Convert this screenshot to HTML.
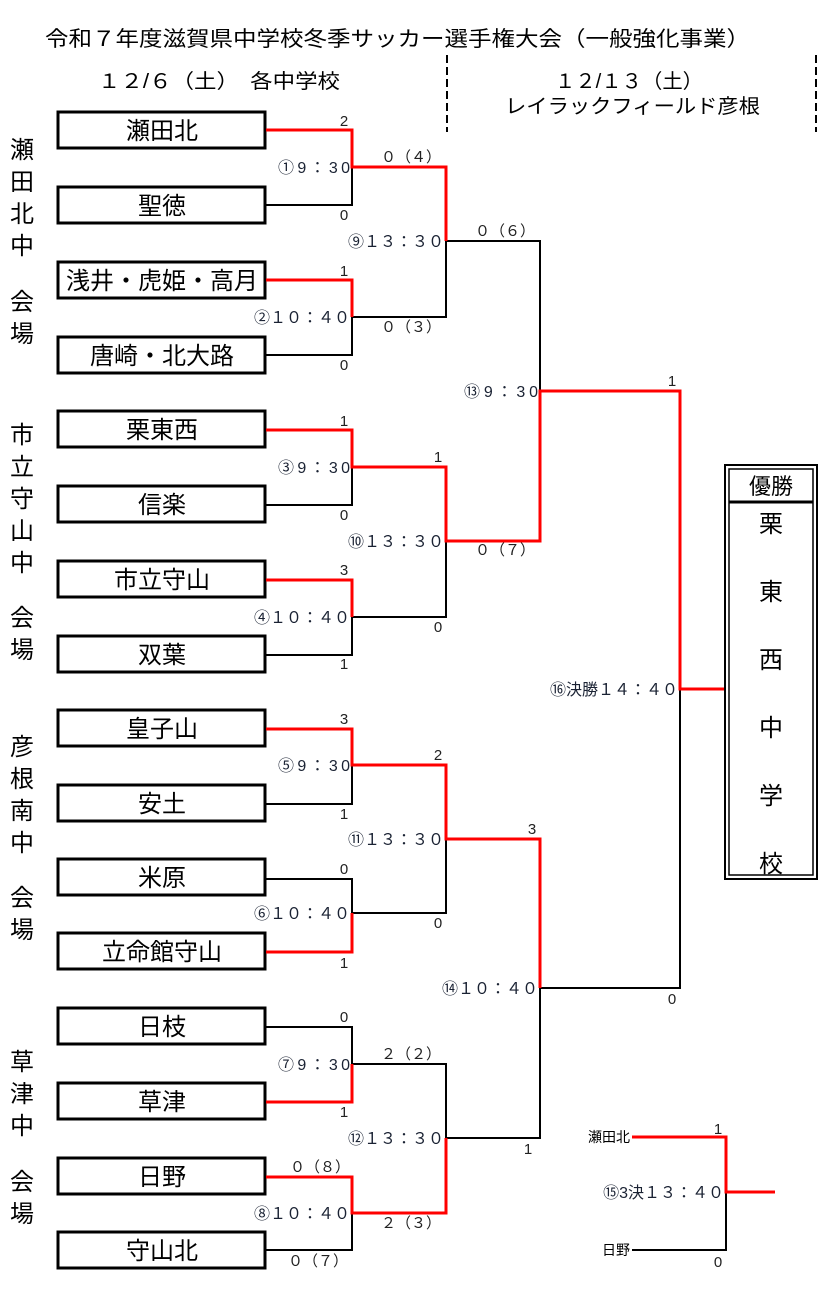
<!DOCTYPE html>
<html><head><meta charset="utf-8"><style>
html,body{margin:0;padding:0;background:#fff;}
svg{display:block;font-family:"Liberation Sans","Noto Sans CJK JP",sans-serif;}
.t{font-size:24px;fill:#000;text-anchor:middle;}
.s{font-size:15px;fill:#222;}
.tm{font-size:16px;fill:#1a2233;text-anchor:end;}
.v{font-size:24px;fill:#000;text-anchor:middle;}
</style></head><body>
<svg width="823" height="1307" viewBox="0 0 823 1307" xmlns="http://www.w3.org/2000/svg">
<text x="45" y="46" font-size="21" fill="#000" textLength="705" lengthAdjust="spacingAndGlyphs">令和７年度滋賀県中学校冬季サッカー選手権大会（一般強化事業）</text>
<text x="98" y="88" font-size="20" fill="#000" textLength="242" lengthAdjust="spacingAndGlyphs">１２/６（土）　各中学校</text>
<text x="555" y="88" font-size="20" fill="#000" textLength="148" lengthAdjust="spacingAndGlyphs">１２/１３（土）</text>
<text x="505" y="113" font-size="20" fill="#000" textLength="255" lengthAdjust="spacingAndGlyphs">レイラックフィールド彦根</text>
<line x1="447" y1="55" x2="447" y2="132" stroke="#000" stroke-width="2" stroke-dasharray="8,4"/>
<line x1="816" y1="55" x2="816" y2="132" stroke="#000" stroke-width="2" stroke-dasharray="8,4"/>

<g class="v">
<text x="22" y="158">瀬</text><text x="22" y="190">田</text><text x="22" y="222">北</text><text x="22" y="254">中</text>
<text x="22" y="310">会</text><text x="22" y="342">場</text>
<text x="22" y="443">市</text><text x="22" y="475">立</text><text x="22" y="507">守</text><text x="22" y="539">山</text><text x="22" y="571">中</text>
<text x="22" y="626">会</text><text x="22" y="658">場</text>
<text x="22" y="755">彦</text><text x="22" y="787">根</text><text x="22" y="819">南</text><text x="22" y="851">中</text>
<text x="22" y="906">会</text><text x="22" y="938">場</text>
<text x="22" y="1070">草</text><text x="22" y="1102">津</text><text x="22" y="1134">中</text>
<text x="22" y="1190">会</text><text x="22" y="1222">場</text>
</g>

<g fill="none" stroke="#000" stroke-width="3">
<rect x="58" y="112" width="207" height="36"/><rect x="58" y="187" width="207" height="36"/>
<rect x="58" y="262" width="207" height="36"/><rect x="58" y="337" width="207" height="36"/>
<rect x="58" y="411" width="207" height="36"/><rect x="58" y="486" width="207" height="36"/>
<rect x="58" y="561" width="207" height="36"/><rect x="58" y="636" width="207" height="36"/>
<rect x="58" y="710" width="207" height="36"/><rect x="58" y="785" width="207" height="36"/>
<rect x="58" y="859" width="207" height="36"/><rect x="58" y="933" width="207" height="36"/>
<rect x="58" y="1008" width="207" height="36"/><rect x="58" y="1083" width="207" height="36"/>
<rect x="58" y="1158" width="207" height="36"/><rect x="58" y="1232" width="207" height="36"/>
</g>
<g class="t">
<text x="162" y="139">瀬田北</text><text x="162" y="214">聖徳</text>
<text x="162" y="289">浅井・虎姫・高月</text><text x="162" y="364">唐崎・北大路</text>
<text x="162" y="438">栗東西</text><text x="162" y="513">信楽</text>
<text x="162" y="588">市立守山</text><text x="162" y="663">双葉</text>
<text x="162" y="737">皇子山</text><text x="162" y="812">安土</text>
<text x="162" y="886">米原</text><text x="162" y="960">立命館守山</text>
<text x="162" y="1035">日枝</text><text x="162" y="1110">草津</text>
<text x="162" y="1185">日野</text><text x="162" y="1259">守山北</text>
</g>

<g fill="none" stroke="#000" stroke-width="2">
<polyline points="266,205 352,205 352,167"/>
<polyline points="266,355 352,355 352,317"/>
<polyline points="266,505 352,505 352,467"/>
<polyline points="266,655 352,655 352,617"/>
<polyline points="266,804 352,804 352,765"/>
<polyline points="266,879 352,879 352,913"/>
<polyline points="266,1027 352,1027 352,1064"/>
<polyline points="266,1250 352,1250 352,1213"/>
<polyline points="352,317 446,317 446,241"/>
<polyline points="352,617 446,617 446,541"/>
<polyline points="352,913 446,913 446,839"/>
<polyline points="352,1064 446,1064 446,1138"/>
<polyline points="446,241 540,241 540,391"/>
<polyline points="446,1138 540,1138 540,988"/>
<polyline points="540,988 680,988 680,689"/>
<polyline points="632,1250 726,1250 726,1192"/>
</g>
<g fill="none" stroke="#f00" stroke-width="3">
<polyline points="266,130 352,130 352,167 446,167 446,241"/>
<polyline points="266,280 352,280 352,317"/>
<polyline points="266,430 352,430 352,467 446,467 446,541 540,541 540,391 680,391 680,689 724,689"/>
<polyline points="266,580 352,580 352,617"/>
<polyline points="266,729 352,729 352,765 446,765 446,839 540,839 540,988"/>
<polyline points="266,952 352,952 352,913"/>
<polyline points="266,1102 352,1102 352,1064"/>
<polyline points="266,1177 352,1177 352,1213 446,1213 446,1138"/>
<polyline points="632,1137 726,1137 726,1192 775,1192"/>
</g>

<g class="s" text-anchor="middle">
<text x="344" y="126">2</text><text x="344" y="220">0</text>
<text x="344" y="276">1</text><text x="344" y="370">0</text>
<text x="344" y="426">1</text><text x="344" y="520">0</text>
<text x="344" y="575">3</text><text x="344" y="669">1</text>
<text x="344" y="724">3</text><text x="344" y="819">1</text>
<text x="344" y="874">0</text><text x="344" y="968">1</text>
<text x="344" y="1022">0</text><text x="344" y="1117">1</text>
<text x="320" y="1172">０（８）</text><text x="318" y="1266">０（７）</text>
<text x="411" y="162">０（４）</text><text x="411" y="332">０（３）</text>
<text x="438" y="462">1</text><text x="438" y="632">0</text>
<text x="438" y="760">2</text><text x="438" y="928">0</text>
<text x="411" y="1059">２（２）</text><text x="411" y="1228">２（３）</text>
<text x="505" y="236">０（６）</text><text x="505" y="555">０（７）</text>
<text x="532" y="834">3</text><text x="528" y="1154">1</text>
<text x="672" y="386">1</text><text x="672" y="1004">0</text>
<text x="718" y="1134">1</text><text x="718" y="1267">0</text>
</g>

<g class="tm">
<text x="350" y="173" textLength="72" lengthAdjust="spacing">①9：30</text>
<text x="350" y="323">②１０：４０</text>
<text x="350" y="473" textLength="72" lengthAdjust="spacing">③9：30</text>
<text x="350" y="623">④１０：４０</text>
<text x="350" y="771" textLength="72" lengthAdjust="spacing">⑤9：30</text>
<text x="350" y="919">⑥１０：４０</text>
<text x="350" y="1070" textLength="72" lengthAdjust="spacing">⑦9：30</text>
<text x="350" y="1219">⑧１０：４０</text>
<text x="444" y="247">⑨１３：３０</text>
<text x="444" y="547">⑩１３：３０</text>
<text x="444" y="845">⑪１３：３０</text>
<text x="444" y="1144">⑫１３：３０</text>
<text x="538" y="397" textLength="74" lengthAdjust="spacing">⑬9：30</text>
<text x="538" y="994">⑭１０：４０</text>
<text x="678" y="695">⑯決勝１４：４０</text>
<text x="724" y="1198">⑮3決１３：４０</text>
</g>
<g font-size="14" text-anchor="end" fill="#000">
<text x="630" y="1142">瀬田北</text>
<text x="630" y="1255">日野</text>
</g>

<rect x="725" y="465" width="92" height="414" fill="none" stroke="#000" stroke-width="2"/>
<rect x="729" y="469" width="84" height="406" fill="none" stroke="#000" stroke-width="1.5"/>
<line x1="729" y1="502" x2="813" y2="502" stroke="#000" stroke-width="3"/>
<g class="v">
<text x="771" y="494" font-size="22">優勝</text>
<text x="771" y="532">栗</text><text x="771" y="600">東</text><text x="771" y="668">西</text>
<text x="771" y="736">中</text><text x="771" y="804">学</text><text x="771" y="872">校</text>
</g>
</svg>
</body></html>
